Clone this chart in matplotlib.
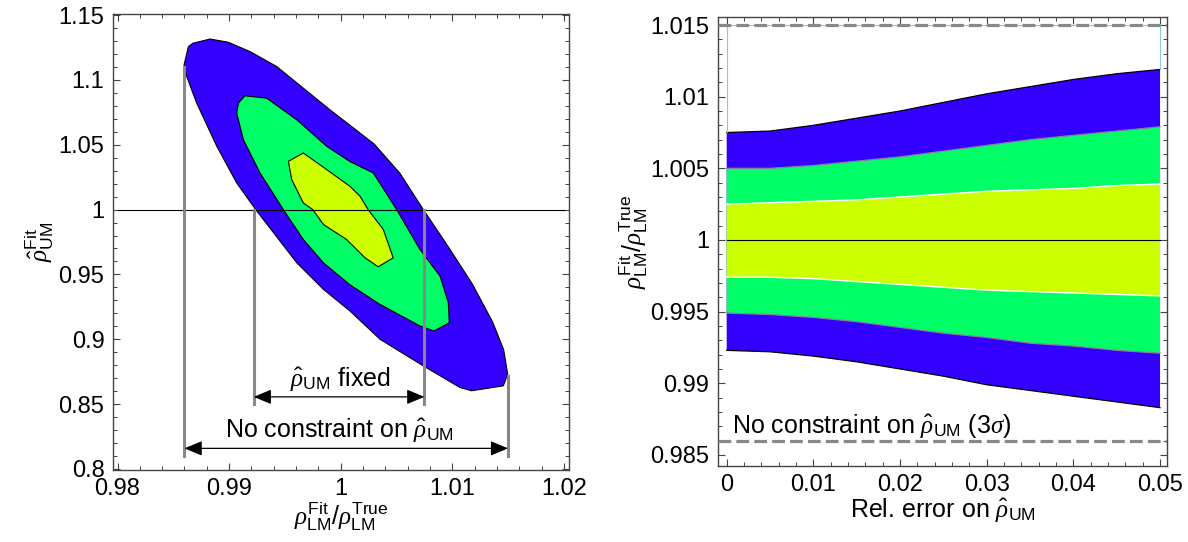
import matplotlib
matplotlib.use('Agg')
import matplotlib.pyplot as plt
from matplotlib.ticker import MultipleLocator

plt.rcParams['font.family'] = ['Liberation Sans', 'DejaVu Sans']
plt.rcParams['mathtext.fontset'] = 'custom'
plt.rcParams['mathtext.rm'] = 'Liberation Sans'
plt.rcParams['mathtext.it'] = 'Liberation Serif:italic'
plt.rcParams['mathtext.bf'] = 'Liberation Sans:bold'

BLUE = '#3300FF'
GREEN = '#00FF66'
YELLOW = '#CCFF00'
GRAY = '#888888'

# --- left panel: confidence regions in the (rho_LM ratio, rho_UM) plane ---
outer_x = [0.98596, 0.98635, 0.98674, 0.98829, 0.98993, 0.99187, 0.99426,
           0.99665, 0.99904, 1.00083, 1.0030, 1.0053, 1.0074, 1.0097,
           1.0118, 1.0136, 1.0146, 1.01496, 1.01457, 1.01173, 1.01069,
           1.0074, 1.00352, 1.00083, 0.99845, 0.99606, 0.99238, 0.99068,
           0.9889, 0.98709, 0.9862]
outer_y = [1.1115, 1.1256, 1.1282, 1.1315, 1.1290, 1.1218, 1.1103,
           1.0936, 1.0769, 1.0650, 1.0505, 1.0280, 1.0, 0.9705,
           0.9425, 0.9135, 0.8920, 0.8731, 0.8641, 0.8603, 0.8628,
           0.8795, 0.9, 0.9218, 0.9385, 0.9590, 1.0, 1.0205,
           1.0487, 1.0821, 1.1026]

mid_x = [0.99068, 0.99083, 0.99142, 0.99336, 0.99606, 0.99875, 1.00083,
         1.00292, 1.00501, 1.0071, 1.0089, 1.00964, 1.00973, 1.00836,
         1.0071, 1.00352, 1.00083, 0.99845, 0.99665, 0.99486, 0.99277,
         0.99128]
mid_y = [1.0744, 1.0821, 1.0877, 1.0859, 1.0692, 1.0487, 1.0370,
         1.0282, 1.0, 0.9692, 0.9487, 0.9282, 0.9128, 0.9064,
         0.9103, 0.9269, 0.9420, 0.9590, 0.9769, 1.0, 1.0282,
         1.0538]

inner_x = [0.99531, 0.99665, 0.99875, 1.00083, 1.00173, 1.00245, 1.00382,
           1.0047, 1.00336, 1.00218, 1.00053, 0.99845, 0.99749, 0.99665,
           0.99561]
inner_y = [1.0372, 1.0436, 1.0308, 1.0179, 1.0103, 1.0, 0.9846,
           0.9628, 0.9559, 0.9628, 0.9769, 0.9885, 1.0, 1.0051,
           1.0231]

# vertical projections of the regions and the arrows between them
full_lo, full_hi = 0.986, 1.015
fixed_lo, fixed_hi = 0.9922, 1.0075

# --- right panel: 1/2/3 sigma bands vs. error on rho_UM ---
rel_err = [0.0, 0.005, 0.01, 0.015, 0.02, 0.025, 0.03, 0.035, 0.04, 0.045, 0.05]
blue_hi = [1.0075, 1.0076, 1.0080, 1.0085, 1.0090, 1.0096, 1.0102, 1.0107, 1.0112, 1.0116, 1.0119]
green_hi = [1.0050, 1.0050, 1.0052, 1.0055, 1.0058, 1.0062, 1.0066, 1.0070, 1.0073, 1.0076, 1.0079]
yellow_hi = [1.0025, 1.0026, 1.0027, 1.0028, 1.0030, 1.0032, 1.0034, 1.0035, 1.0036, 1.0038, 1.0039]
yellow_lo = [0.9974, 0.9974, 0.9973, 0.9971, 0.9969, 0.9967, 0.9965, 0.9964, 0.9963, 0.9962, 0.9961]
green_lo = [0.9949, 0.9948, 0.9946, 0.9943, 0.9939, 0.9935, 0.9932, 0.9928, 0.9926, 0.9923, 0.9921]
blue_lo = [0.9923, 0.9922, 0.9919, 0.9915, 0.9910, 0.9905, 0.9899, 0.9895, 0.9891, 0.9887, 0.9883]

FS = 17     # tick labels
TS = 18     # axis labels and annotations
ratio_label = r'$\rho^{\rm Fit}_{\rm LM}/\rho^{\rm True}_{\rm LM}$'
um_label = r'$\hat{\rho}^{\rm Fit}_{\rm UM}$'
rho_um = r'$\hat{\rho}_{\rm UM}$'


def style_axes(ax):
    for sp in ax.spines.values():
        sp.set_color('#444444')
        sp.set_linewidth(1.0)
    ax.tick_params(which='both', direction='in', top=True, right=True,
                   color='#444444', labelsize=FS, pad=6)
    ax.tick_params(which='major', length=5, width=0.8)
    ax.tick_params(which='minor', length=3, width=0.7)


fig = plt.figure(figsize=(11.88, 5.42), dpi=100)

ax1 = fig.add_axes([0.0949, 0.1328, 0.3841, 0.8414])
ax1.fill(outer_x, outer_y, facecolor=BLUE, edgecolor='k', lw=0.8, zorder=1)
ax1.fill(mid_x, mid_y, facecolor=GREEN, edgecolor='k', lw=0.8, zorder=2)
ax1.fill(inner_x, inner_y, facecolor=YELLOW, edgecolor='k', lw=0.8, zorder=3)
ax1.plot([0.98, 1.02], [1.0, 1.0], color='k', lw=0.8, zorder=4)

ax1.plot([full_lo, full_lo], [0.81, 1.11], color=GRAY, lw=2.2, zorder=5)
ax1.plot([full_hi, full_hi], [0.81, 0.872], color=GRAY, lw=2.2, zorder=5)
ax1.plot([fixed_lo, fixed_lo], [0.85, 1.0], color=GRAY, lw=2.2, zorder=5)
ax1.plot([fixed_hi, fixed_hi], [0.85, 1.0], color=GRAY, lw=2.2, zorder=5)

arrow = dict(arrowstyle='<|-|>,head_length=0.6,head_width=0.25', color='k',
             lw=0.9, mutation_scale=18, shrinkA=0, shrinkB=0)
ax1.annotate('', xy=(fixed_hi, 0.8556), xytext=(fixed_lo, 0.8556),
             arrowprops=arrow, zorder=6)
ax1.annotate('', xy=(full_hi, 0.8159), xytext=(full_lo, 0.8159),
             arrowprops=arrow, zorder=6)
ax1.text(1.0, 0.8641, rho_um + ' fixed', ha='center', va='baseline', fontsize=TS)
ax1.text(0.99985, 0.8244, 'No constraint on ' + rho_um, ha='center',
         va='baseline', fontsize=TS)

ax1.set_xlim(0.97957, 1.02046)
ax1.set_ylim(0.7992, 1.1508)
ax1.set_xticks([0.98, 0.99, 1.0, 1.01, 1.02])
ax1.set_xticklabels(['0.98', '0.99', '1', '1.01', '1.02'])
ax1.xaxis.set_minor_locator(MultipleLocator(0.002))
ax1.set_yticks([0.8, 0.85, 0.9, 0.95, 1.0, 1.05, 1.1, 1.15])
ax1.set_yticklabels(['0.8', '0.85', '0.9', '0.95', '1', '1.05', '1.1', '1.15'])
ax1.yaxis.set_minor_locator(MultipleLocator(0.01))
style_axes(ax1)
ax1.set_xlabel(ratio_label, fontsize=TS, labelpad=0)
ax1.set_ylabel(um_label, fontsize=TS, labelpad=2)

ax2 = fig.add_axes([0.6041, 0.1402, 0.3785, 0.8290])
ax2.fill_between(rel_err, blue_lo, blue_hi, facecolor=BLUE, lw=0, zorder=1)
ax2.fill_between(rel_err, green_lo, green_hi, facecolor=GREEN, lw=0, zorder=2)
ax2.fill_between(rel_err, yellow_lo, yellow_hi, facecolor=YELLOW, lw=0, zorder=3)
ax2.plot(rel_err, blue_hi, color='k', lw=0.9, zorder=4)
ax2.plot(rel_err, blue_lo, color='k', lw=0.9, zorder=4)
ax2.plot(rel_err, green_hi, color='#8a7f9e', lw=0.9, zorder=4)
ax2.plot(rel_err, green_lo, color='#8a7f9e', lw=0.9, zorder=4)
ax2.plot(rel_err, yellow_hi, color='white', lw=1.0, zorder=4)
ax2.plot(rel_err, yellow_lo, color='white', lw=1.0, zorder=4)
ax2.plot([rel_err[0], rel_err[-1]], [1.0, 1.0], color='k', lw=0.8, zorder=5)

# outline of the unconstrained 3 sigma range
edge = '#8ec8d8'
ax2.plot([rel_err[0], rel_err[0]], [blue_hi[0], full_hi], color=edge, lw=0.8, zorder=4)
ax2.plot([rel_err[-1], rel_err[-1]], [blue_hi[-1], full_hi], color=edge, lw=0.8, zorder=4)
ax2.plot([rel_err[0], rel_err[-1]], [full_hi, full_hi], color=edge, lw=0.8, zorder=4)
ax2.axhline(full_hi, color=GRAY, lw=2.3, dashes=(4, 1.6), zorder=6)
ax2.axhline(full_lo, color=GRAY, lw=2.3, dashes=(4, 1.6), zorder=6)
ax2.text(0.0006, 0.98653, 'No constraint on ' + rho_um + r' $(3\sigma)$',
         ha='left', va='baseline', fontsize=TS)

ax2.set_xlim(-0.00104, 0.05084)
ax2.set_ylim(0.98423, 1.01558)
ax2.set_xticks([0, 0.01, 0.02, 0.03, 0.04, 0.05])
ax2.set_xticklabels(['0', '0.01', '0.02', '0.03', '0.04', '0.05'])
ax2.xaxis.set_minor_locator(MultipleLocator(0.002))
ax2.set_yticks([0.985, 0.99, 0.995, 1.0, 1.005, 1.01, 1.015])
ax2.set_yticklabels(['0.985', '0.99', '0.995', '1', '1.005', '1.01', '1.015'])
ax2.yaxis.set_minor_locator(MultipleLocator(0.001))
style_axes(ax2)
ax2.set_xlabel('Rel. error on ' + rho_um, fontsize=TS, labelpad=0)
ax2.set_ylabel(ratio_label, fontsize=TS, labelpad=0)

fig.savefig('out.png', dpi=100)
